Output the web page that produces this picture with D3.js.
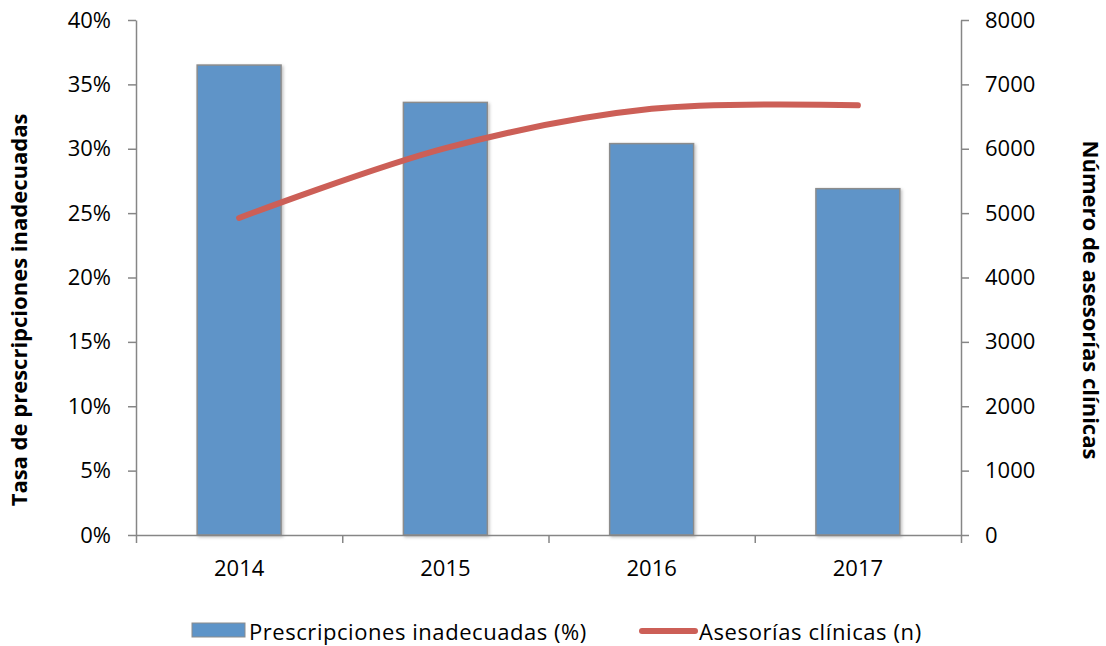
<!DOCTYPE html>
<html><head><meta charset="utf-8">
<script src="https://cdn.jsdelivr.net/npm/d3@7"></script>
<style>body{margin:0;background:#fff}svg{display:block}text{font-family:"Open Sans",sans-serif}</style>
</head><body>
<svg id="c" width="1106" height="646"></svg>
<script>
const categories = ["2014","2015","2016","2017"];
const prescripciones = [0.365, 0.336, 0.304, 0.269];
const asesorias = [4925, 6010, 6620, 6675];
const leftTicks = [0,0.05,0.10,0.15,0.20,0.25,0.30,0.35,0.40];
const rightTicks = [0,1000,2000,3000,4000,5000,6000,7000,8000];
const seriesNames = ["Prescripciones inadecuadas (%)","Asesorías clínicas (n)"];
const axisTitles = ["Tasa de prescripciones inadecuadas","Número de asesorías clínicas"];

const FONT="'Open Sans',sans-serif", FS="22px";
const svg = d3.select("#c");
const L=136, R=961, T=20, B=535;
const x = d3.scaleBand().domain(categories).range([L,R]).padding(0);
const xb = d3.scaleLinear().domain([0,categories.length]).range([L,R]);
const yL = d3.scaleLinear().domain([0,0.4]).range([B,T]);
const yR = d3.scaleLinear().domain([0,8000]).range([B,T]);
const axisColor="#868686";

const defs=svg.append("defs");
const f=defs.append("filter").attr("id","sh").attr("x","-10%").attr("y","-10%").attr("width","130%").attr("height","130%");
f.append("feDropShadow").attr("dx",1.5).attr("dy",1.5).attr("stdDeviation",1.5).attr("flood-color","#000").attr("flood-opacity",0.25);

// bars
const bw=x.bandwidth(), barW=bw*0.407;
svg.append("g").selectAll("rect").data(categories).join("rect")
  .attr("x",d=>x(d)+(bw-barW)/2).attr("width",barW)
  .attr("y",(d,i)=>yL(prescripciones[i])).attr("height",(d,i)=>B-yL(prescripciones[i]))
  .attr("fill","#5e94c8").attr("stroke","#8c8c8c").attr("stroke-width",1.5).attr("filter","url(#sh)");

// axes
function styleAxis(g){g.select(".domain").attr("stroke",axisColor).attr("stroke-width",1.5);
  g.selectAll(".tick line").attr("stroke",axisColor).attr("stroke-width",1.5);
  g.selectAll(".tick text").attr("fill","#000").style("font-size",FS).style("font-family",FONT);}
svg.append("g").attr("transform",`translate(${L},0)`)
  .call(d3.axisLeft(yL).tickValues(leftTicks).tickFormat(d3.format(".0%")).tickSize(8).tickSizeOuter(0).tickPadding(17))
  .call(styleAxis);
svg.append("g").attr("transform",`translate(${R},0)`)
  .call(d3.axisRight(yR).tickValues(rightTicks).tickFormat(d3.format("d")).tickSize(8).tickSizeOuter(0).tickPadding(16))
  .call(styleAxis);
svg.append("g").attr("transform",`translate(0,${B})`)
  .call(d3.axisBottom(xb).tickValues(d3.range(categories.length+1)).tickFormat("").tickSize(8).tickSizeOuter(0))
  .call(styleAxis);
svg.append("g").attr("transform",`translate(0,${B})`)
  .call(d3.axisBottom(x).tickSize(0).tickPadding(25))
  .call(styleAxis).call(g=>g.select(".domain").remove());

// line
const line=d3.line().x((d,i)=>x(categories[i])+bw/2).y(d=>yR(d)).curve(d3.curveCardinal.tension(0));
svg.append("path").datum(asesorias).attr("d",line).attr("fill","none")
  .attr("stroke","#cc5f57").attr("stroke-width",6).attr("stroke-linecap","round");

// axis titles
svg.append("text").attr("transform",`translate(27,310) rotate(-90)`).attr("text-anchor","middle")
  .style("font-size",FS).style("font-weight","bold").text(axisTitles[0]);
svg.append("text").attr("transform",`translate(1083,300) rotate(90)`).attr("text-anchor","middle")
  .style("font-size",FS).style("font-weight","bold").text(axisTitles[1]);

// legend
const lg=svg.append("g");
lg.append("rect").attr("x",192).attr("y",623).attr("width",53).attr("height",14).attr("fill","#5e94c8").attr("stroke","#8c8c8c").attr("stroke-width",1);
lg.append("text").attr("x",249).attr("y",640).style("font-size",FS).style("letter-spacing","0.55px").text(seriesNames[0]);
lg.append("line").attr("x1",642).attr("x2",695).attr("y1",631).attr("y2",631).attr("stroke","#cc5f57").attr("stroke-width",6).attr("stroke-linecap","round");
lg.append("text").attr("x",699).attr("y",640).style("font-size",FS).style("letter-spacing","0.6px").text(seriesNames[1]);
</script>
</body></html>
